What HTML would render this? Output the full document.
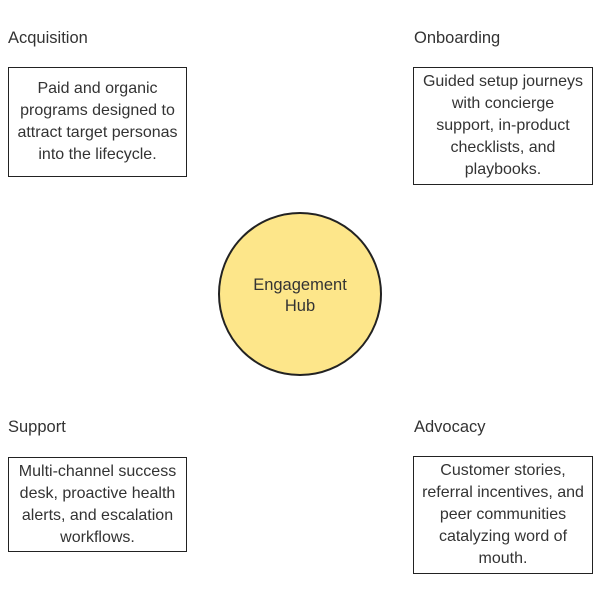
<!DOCTYPE html>
<html><head><meta charset="utf-8"><style>
body{margin:0;width:600px;height:600px;background:#fff;position:relative;font-family:"Liberation Sans",sans-serif;color:#333;overflow:hidden}
.l{position:absolute;font-size:16.5px;line-height:20px}
.b{position:absolute;box-sizing:border-box;border:1.5px solid #222;background:#fff;text-align:center;font-size:16px;line-height:22px;white-space:nowrap;display:flex;align-items:center;justify-content:center}
.c{position:absolute;left:218px;top:212px;width:164px;height:164px;box-sizing:border-box;border:2px solid #222;border-radius:50%;background:#fde68a;text-align:center;font-size:16.5px;line-height:21px;padding-top:61px}
</style></head><body>
<div class="l" style="left:8px;top:28px">Acquisition</div>
<div class="b" style="left:8px;top:67px;width:179px;height:110px"><div>Paid and organic<br>programs designed to<br>attract target personas<br>into the lifecycle.</div></div>
<div class="l" style="left:414px;top:28px">Onboarding</div>
<div class="b" style="left:413px;top:67px;width:180px;height:118px"><div>Guided setup journeys<br>with concierge<br>support, in-product<br>checklists, and<br>playbooks.</div></div>
<div class="c">Engagement<br>Hub</div>
<div class="l" style="left:8px;top:417px">Support</div>
<div class="b" style="left:8px;top:457px;width:179px;height:95px"><div>Multi-channel success<br>desk, proactive health<br>alerts, and escalation<br>workflows.</div></div>
<div class="l" style="left:414px;top:417px">Advocacy</div>
<div class="b" style="left:413px;top:456px;width:180px;height:118px"><div>Customer stories,<br>referral incentives, and<br>peer communities<br>catalyzing word of<br>mouth.</div></div>
</body></html>
